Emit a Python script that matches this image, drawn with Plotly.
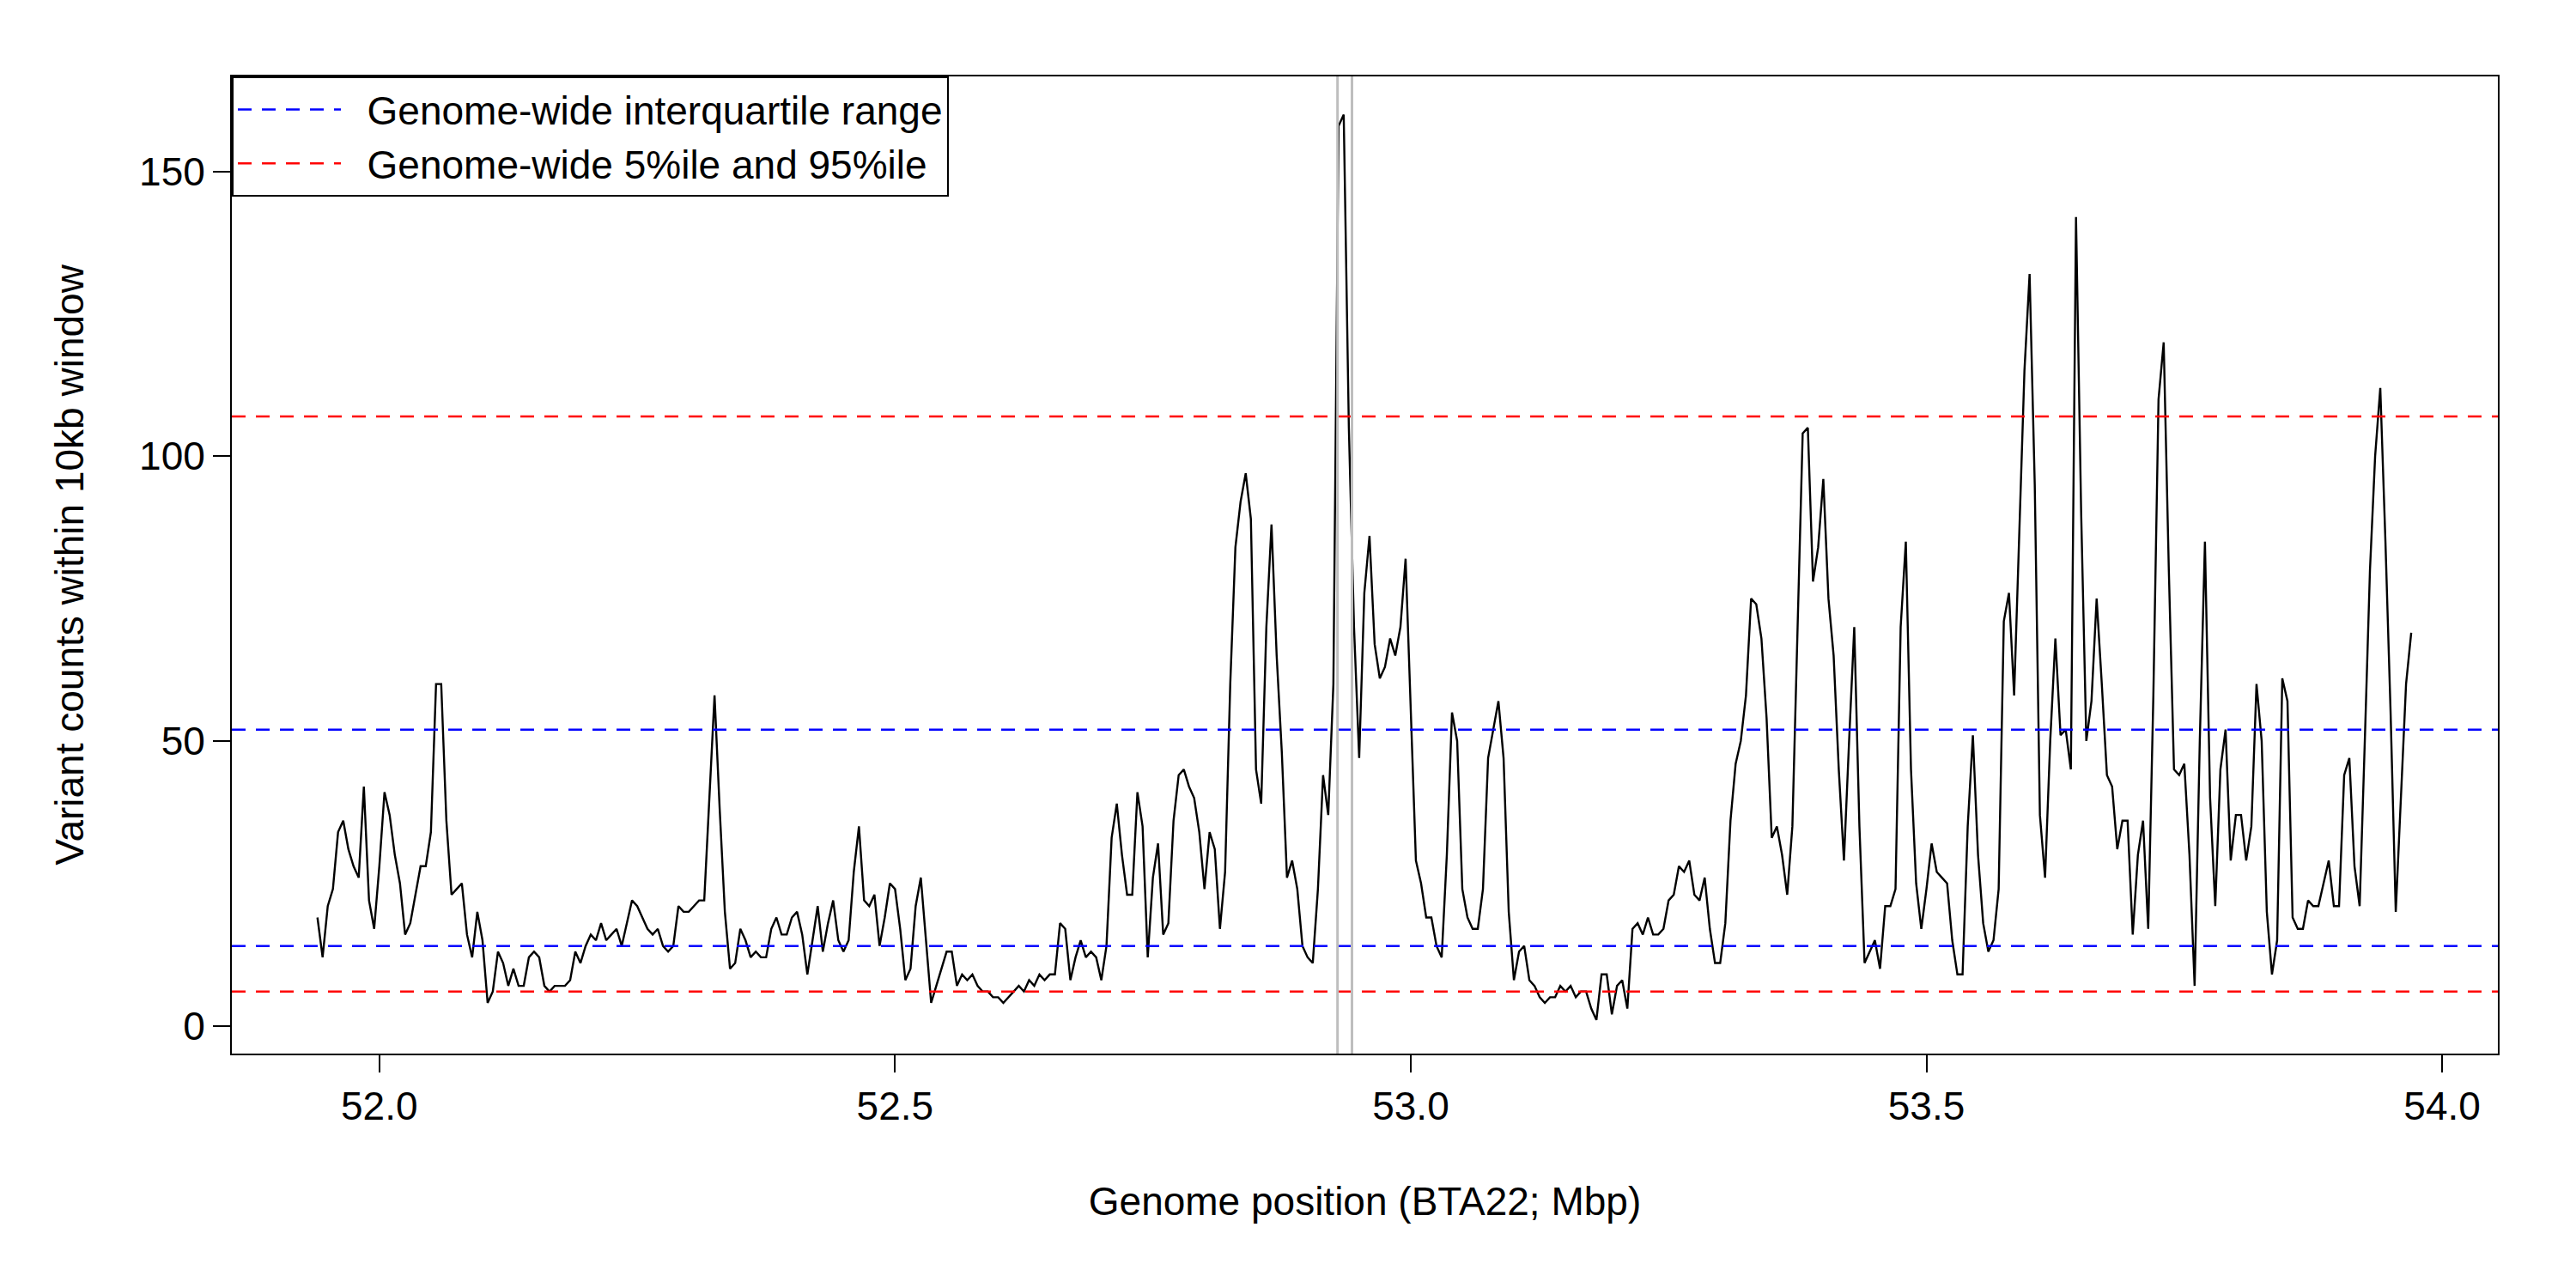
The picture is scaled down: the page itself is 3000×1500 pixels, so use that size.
import numpy as np
import plotly.graph_objects as go

# variant counts per 10kb window, windows stepping by 5kb from 51.94 Mbp
start_mbp = 51.94
step_mbp = 0.005
counts = [
    19, 12, 21, 24, 34, 36, 31, 28, 26, 42, 22, 17,
    28, 41, 37, 30, 25, 16, 18, 23, 28, 28, 34, 60, 60, 36, 23, 24, 25, 16, 12, 20,
    15, 4, 6, 13, 11, 7, 10, 7, 7, 12, 13, 12, 7, 6, 7, 7, 7, 8, 13, 11,
    14, 16, 15, 18, 15, 16, 17, 14, 18, 22, 21, 19, 17, 16, 17, 14, 13, 14, 21, 20,
    20, 21, 22, 22, 40, 58, 38, 20, 10, 11, 17, 15, 12, 13, 12, 12, 17, 19, 16, 16,
    19, 20, 16, 9, 15, 21, 13, 18, 22, 15, 13, 15, 27, 35, 22, 21, 23, 14, 19, 25,
    24, 17, 8, 10, 21, 26, 15, 4, 7, 10, 13, 13, 7, 9, 8, 9, 7, 6, 6, 5,
    5, 4, 5, 6, 7, 6, 8, 7, 9, 8, 9, 9, 18, 17, 8, 12, 15, 12, 13, 12,
    8, 14, 33, 39, 30, 23, 23, 41, 35, 12, 26, 32, 16, 18, 36, 44, 45, 42, 40, 34,
    24, 34, 31, 17, 27, 60, 84, 92, 97, 89, 45, 39, 70, 88, 65, 48, 26, 29, 24, 14,
    12, 11, 24, 44, 37, 60, 158, 160, 105, 70, 47, 76, 86, 67, 61, 63, 68, 65, 70, 82,
    55, 29, 25, 19, 19, 14, 12, 30, 55, 50, 24, 19, 17, 17, 24, 47, 52, 57, 47, 20,
    8, 13, 14, 8, 7, 5, 4, 5, 5, 7, 6, 7, 5, 6, 6, 3, 1, 9, 9, 2,
    7, 8, 3, 17, 18, 16, 19, 16, 16, 17, 22, 23, 28, 27, 29, 23, 22, 26, 17, 11,
    11, 18, 36, 46, 50, 58, 75, 74, 68, 54, 33, 35, 30, 23, 35, 70, 104, 105, 78, 84,
    96, 75, 65, 45, 29, 50, 70, 35, 11, 13, 15, 10, 21, 21, 24, 70, 85, 45, 25, 17,
    24, 32, 27, 26, 25, 15, 9, 9, 35, 51, 30, 18, 13, 15, 24, 71, 76, 58, 85, 115,
    132, 95, 37, 26, 50, 68, 51, 52, 45, 142, 90, 50, 57, 75, 60, 44, 42, 31, 36, 36,
    16, 30, 36, 17, 58, 110, 120, 80, 45, 44, 46, 30, 7, 50, 85, 40, 21, 45, 52, 29,
    37, 37, 29, 35, 60, 50, 20, 9, 15, 61, 57, 19, 17, 17, 22, 21, 21, 25, 29, 21,
    21, 44, 47, 28, 21, 50, 80, 100, 112, 85, 55, 20, 40, 60, 69,
]
positions = start_mbp + step_mbp * np.arange(len(counts))

iqr_lines = [14, 52]          # genome-wide interquartile range
pct_lines = [6, 107]          # genome-wide 5%ile and 95%ile
grey_lines = [52.929, 52.943]  # highlighted region
x_ticks = [52.0, 52.5, 53.0, 53.5, 54.0]
y_ticks = [0, 50, 100, 150]

FONT = "Liberation Sans, Arial, sans-serif"
DASH = "16px,12px"

fig = go.Figure()
fig.add_trace(go.Scatter(x=positions, y=counts, mode="lines",
                         line=dict(color="black", width=2.4), showlegend=False))
fig.add_trace(go.Scatter(x=[None], y=[None], mode="lines",
                         line=dict(color="blue", width=2.5, dash=DASH),
                         name="  Genome-wide interquartile range"))
fig.add_trace(go.Scatter(x=[None], y=[None], mode="lines",
                         line=dict(color="red", width=2.5, dash=DASH),
                         name="  Genome-wide 5%ile and 95%ile"))

for v in iqr_lines:
    fig.add_hline(y=v, line=dict(color="blue", width=2.5, dash=DASH))
for v in pct_lines:
    fig.add_hline(y=v, line=dict(color="red", width=2.5, dash=DASH))
for v in grey_lines:
    fig.add_vline(x=v, line=dict(color="#bebebe", width=3))

axis_common = dict(showgrid=False, zeroline=False, showline=True, mirror=True,
                   linecolor="black", linewidth=2, ticks="outside", ticklen=20,
                   tickwidth=2, tickcolor="black",
                   tickfont=dict(family=FONT, size=46, color="black"))

fig.update_layout(
    width=3000, height=1500,
    plot_bgcolor="white", paper_bgcolor="white",
    margin=dict(l=262, r=99, t=81, b=281),
    font=dict(family=FONT, size=46, color="black"),
    xaxis=dict(range=[51.857, 54.054], tickvals=x_ticks,
               ticktext=[f"{t:.1f}" for t in x_ticks],
               title=dict(text="Genome position (BTA22; Mbp)", standoff=70,
                          font=dict(size=46)), **axis_common),
    yaxis=dict(range=[-4.9, 166.7], tickvals=y_ticks,
               title=dict(text="Variant counts within 10kb window", standoff=50,
                          font=dict(size=46)), **axis_common),
    legend=dict(x=0, y=1, xanchor="left", yanchor="top",
                bgcolor="white", bordercolor="black", borderwidth=2,
                font=dict(size=46), itemwidth=120, tracegroupgap=0),
)

fig.write_html("out.html")
